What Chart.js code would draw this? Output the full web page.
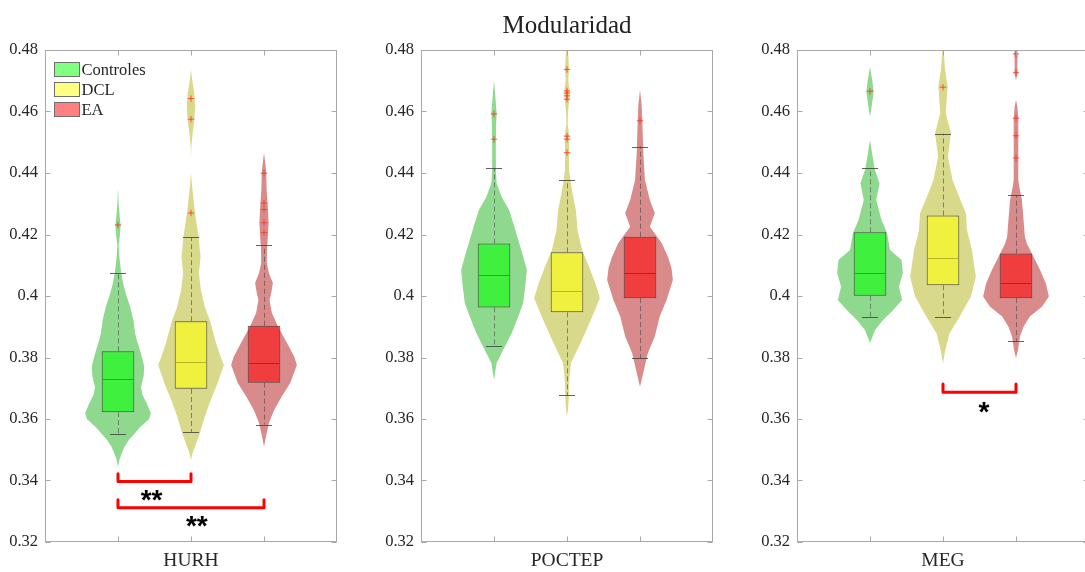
<!DOCTYPE html>
<html>
<head>
<meta charset="utf-8">
<script src="https://cdn.jsdelivr.net/npm/chart.js@4.4.1/dist/chart.umd.min.js"></script>
<style>
  html, body { margin: 0; padding: 0; background: #fff; overflow: hidden; }
  body { width: 1085px; height: 572px; position: relative; }
  canvas { position: absolute; top: 0; }
</style>
</head>
<body>
<canvas id="panel0" width="345" height="572" style="left:0px"></canvas>
<canvas id="panel1" width="345" height="572" style="left:376px"></canvas>
<canvas id="panel2" width="345" height="572" style="left:752px"></canvas>
<script>
// Groups and databases
const groups = ['Controles', 'DCL', 'EA'];
const databases = ['HURH', 'POCTEP', 'MEG'];
const yTicks = [0.32, 0.34, 0.36, 0.38, 0.40, 0.42, 0.44, 0.46, 0.48];
const chartTitle = 'Modularidad';

// Box plot stats, one row per database: [Controles, DCL, EA]
const q1 = [[0.3622, 0.3698, 0.3718], [0.3963, 0.3947, 0.3993], [0.4001, 0.4035, 0.3993]];
const medians = [[0.3729, 0.3784, 0.3781], [0.4067, 0.4016, 0.4076], [0.4076, 0.4123, 0.4041]];
const q3 = [[0.3820, 0.3918, 0.3903], [0.4171, 0.4142, 0.4193], [0.4207, 0.4262, 0.4138]];
const whiskerLow = [[0.3550, 0.3557, 0.3582], [0.3837, 0.3677, 0.3797], [0.3933, 0.3931, 0.3853]];
const whiskerHigh = [[0.4074, 0.4191, 0.4165], [0.4416, 0.4376, 0.4486], [0.4416, 0.4528, 0.4328]];
const outliers = [
    [[0.4231], [0.4270, 0.4575, 0.4642], [0.4206, 0.4238, 0.4281, 0.4302, 0.4399]],
    [[0.4510, 0.4592], [0.4466, 0.4510, 0.4520, 0.4640, 0.4651, 0.4660, 0.4667, 0.4737], [0.4570]],
    [[0.4666], [0.4679], [0.4449, 0.4521, 0.4578, 0.4726, 0.4787]]
];

// Violin profiles: levels (modularity) and relative density (1 = widest)
const hurhLevels = [
    [0.4350, 0.4300, 0.4260, 0.4230, 0.4200, 0.4165, 0.4130, 0.4100, 0.4074, 0.4040, 0.4000, 0.3965, 0.3920, 0.3880, 0.3857, 0.3834, 0.3800, 0.3770, 0.3740, 0.3704, 0.3680, 0.3650, 0.3619, 0.3600, 0.3574, 0.3550, 0.3532, 0.3510, 0.3490, 0.3470, 0.3445],
    [0.4735, 0.4700, 0.4660, 0.4615, 0.4570, 0.4530, 0.4486, 0.4450, 0.4400, 0.4360, 0.4320, 0.4270, 0.4235, 0.4193, 0.4128, 0.4074, 0.4020, 0.3965, 0.3912, 0.3847, 0.3803, 0.3776, 0.3716, 0.3662, 0.3608, 0.3554, 0.3510, 0.3490, 0.3467],
    [0.4465, 0.4440, 0.4400, 0.4345, 0.4300, 0.4237, 0.4200, 0.4150, 0.4107, 0.4075, 0.4042, 0.4010, 0.3987, 0.3945, 0.3900, 0.3847, 0.3803, 0.3776, 0.3717, 0.3673, 0.3629, 0.3587, 0.3543, 0.3510]
];
const hurhDensity = [
    [0, 0.02, 0.05, 0.08, 0.06, 0.02, 0.04, 0.07, 0.10, 0.16, 0.26, 0.37, 0.47, 0.52, 0.57, 0.64, 0.73, 0.80, 0.78, 0.70, 0.74, 0.88, 1.00, 0.95, 0.68, 0.48, 0.33, 0.20, 0.12, 0.05, 0],
    [0, 0.04, 0.10, 0.13, 0.10, 0.05, 0.01, 0, 0, 0.03, 0.07, 0.12, 0.17, 0.23, 0.29, 0.24, 0.30, 0.42, 0.60, 0.76, 0.90, 1.00, 0.81, 0.60, 0.42, 0.27, 0.12, 0.05, 0],
    [0, 0.03, 0.07, 0.08, 0.11, 0.14, 0.12, 0.09, 0.085, 0.15, 0.27, 0.22, 0.17, 0.24, 0.43, 0.70, 0.92, 1.00, 0.80, 0.54, 0.31, 0.15, 0.06, 0]
];
const poctepLevels = [
    [0.4702, 0.4650, 0.4595, 0.4550, 0.4465, 0.4400, 0.4367, 0.4323, 0.4280, 0.4225, 0.4160, 0.4128, 0.4085, 0.4030, 0.3977, 0.3933, 0.3880, 0.3824, 0.3782, 0.3727],
    [0.4820, 0.4760, 0.4737, 0.4700, 0.4667, 0.4640, 0.4600, 0.4560, 0.4520, 0.4466, 0.4410, 0.4345, 0.4280, 0.4215, 0.4150, 0.4095, 0.4042, 0.3993, 0.3933, 0.3880, 0.3824, 0.3782, 0.3717, 0.3662, 0.3630, 0.3608],
    [0.4670, 0.4620, 0.4572, 0.4465, 0.4377, 0.4312, 0.4270, 0.4225, 0.4172, 0.4128, 0.4090, 0.4052, 0.3987, 0.3933, 0.3868, 0.3815, 0.3759, 0.3705]
];
const poctepDensity = [
    [0, 0.04, 0.08, 0.06, 0.055, 0.06, 0.08, 0.23, 0.46, 0.62, 0.80, 0.89, 1.00, 0.95, 0.89, 0.74, 0.54, 0.28, 0.08, 0],
    [0.02, 0.05, 0.06, 0.04, 0.08, 0.07, 0.03, 0.02, 0.07, 0.06, 0.06, 0.15, 0.27, 0.32, 0.46, 0.67, 0.86, 1.00, 0.77, 0.55, 0.31, 0.12, 0.06, 0.05, 0.03, 0],
    [0, 0.05, 0.07, 0.10, 0.15, 0.30, 0.45, 0.30, 0.66, 0.85, 0.96, 1.00, 0.81, 0.60, 0.45, 0.24, 0.12, 0]
];
const megLevels = [
    [0.4746, 0.4700, 0.4666, 0.4630, 0.4583, 0.4507, 0.4460, 0.4415, 0.4366, 0.4312, 0.4247, 0.4205, 0.4150, 0.4117, 0.4075, 0.4030, 0.3987, 0.3954, 0.3921, 0.3889, 0.3847],
    [0.4820, 0.4800, 0.4740, 0.4681, 0.4595, 0.4529, 0.4453, 0.4377, 0.4312, 0.4269, 0.4215, 0.4150, 0.4063, 0.3998, 0.3933, 0.3879, 0.3824, 0.3780],
    [0.4820, 0.4787, 0.4750, 0.4726, 0.4702, 0.4637, 0.4616, 0.4578, 0.4521, 0.4449, 0.4377, 0.4356, 0.4312, 0.4247, 0.4193, 0.4171, 0.4128, 0.4085, 0.4041, 0.3998, 0.3965, 0.3933, 0.3900, 0.3868, 0.3824, 0.3798]
];
const megDensity = [
    [0, 0.07, 0.11, 0.07, 0, 0, 0.07, 0.14, 0.29, 0.19, 0.35, 0.52, 0.61, 0.96, 1.00, 0.88, 0.98, 0.70, 0.39, 0.15, 0],
    [0, 0.02, 0.06, 0.14, 0.085, 0.24, 0.15, 0.29, 0.53, 0.70, 0.73, 0.88, 1.00, 0.85, 0.51, 0.20, 0.07, 0],
    [0.03, 0.05, 0.04, 0.05, 0, 0, 0.04, 0.07, 0.07, 0.07, 0.07, 0.10, 0.18, 0.23, 0.27, 0.33, 0.53, 0.73, 0.91, 1.00, 0.79, 0.42, 0.23, 0.12, 0.06, 0]
];
const violinLevels = [hurhLevels, poctepLevels, megLevels];
const violinDensity = [hurhDensity, poctepDensity, megDensity];

// Significance brackets per database: group positions, bracket level, star text and its place
const bracketFrom = [[1, 1], [], [2]];
const bracketTo = [[2, 3], [], [3]];
const bracketBase = [[0.3397, 0.3311], [], [0.3687]];
const bracketTop = [[0.3422, 0.3337], [], [0.3714]];
const starText = [['**', '**'], [], ['*']];
const starX = [[1.46, 2.08], [], [2.56]];
const starY = [[0.3353, 0.3269], [], [0.3640]];

// Styles
const violinColors = ['#8ed98e', '#d9d98c', '#d98a8a'];
const boxColors = ['rgba(30,250,30,0.7)', 'rgba(250,250,30,0.7)', 'rgba(250,30,30,0.7)'];
const medianColors = ['rgba(30,150,30,0.75)', 'rgba(165,165,30,0.75)', 'rgba(150,30,30,0.75)'];
const legendColors = ['#80ff80', '#ffff80', '#ff8080'];
const VIOLIN_HALF = 0.45;
const CAP_HALF = 0.11;
const axisColor = '#a8a8a8';
const textColor = '#262626';
const serif = '"Liberation Serif", "Times New Roman", serif';

const violinPlugin = {
    id: 'violins',
    beforeDatasetsDraw(chart, args, opts) {
        const { ctx, chartArea, scales: { x, y } } = chart;
        const p = opts.panel;
        ctx.save();
        ctx.beginPath();
        ctx.rect(chartArea.left, chartArea.top, chartArea.width, chartArea.height);
        ctx.clip();
        groups.forEach((g, i) => {
            const c = i + 1;
            const lv = violinLevels[p][i];
            const dn = violinDensity[p][i];
            ctx.beginPath();
            for (let k = 0; k < lv.length; k++) {
                ctx.lineTo(x.getPixelForValue(c + dn[k] * VIOLIN_HALF), y.getPixelForValue(lv[k]));
            }
            for (let k = lv.length - 1; k >= 0; k--) {
                ctx.lineTo(x.getPixelForValue(c - dn[k] * VIOLIN_HALF), y.getPixelForValue(lv[k]));
            }
            ctx.closePath();
            ctx.fillStyle = violinColors[i];
            ctx.fill();

            // dashed whiskers
            const cx = Math.round(x.getPixelForValue(c)) + 0.5;
            ctx.strokeStyle = 'rgba(70,70,70,0.6)';
            ctx.lineWidth = 1;
            ctx.setLineDash([5, 3]);
            ctx.beginPath();
            ctx.moveTo(cx, y.getPixelForValue(q3[p][i]));
            ctx.lineTo(cx, y.getPixelForValue(whiskerHigh[p][i]));
            ctx.moveTo(cx, y.getPixelForValue(q1[p][i]));
            ctx.lineTo(cx, y.getPixelForValue(whiskerLow[p][i]));
            ctx.stroke();
            ctx.setLineDash([]);
        });
        ctx.restore();
    },
    afterDatasetsDraw(chart, args, opts) {
        const { ctx, scales: { x, y } } = chart;
        const p = opts.panel;
        ctx.save();
        // medians and whisker caps
        groups.forEach((g, i) => {
            const c = i + 1;
            const bl = x.getPixelForValue(c - 0.223), br = x.getPixelForValue(c + 0.223);
            const my = Math.round(y.getPixelForValue(medians[p][i])) + 0.5;
            ctx.strokeStyle = medianColors[i];
            ctx.lineWidth = 1;
            ctx.beginPath();
            ctx.moveTo(bl + 1, my);
            ctx.lineTo(br - 1, my);
            ctx.stroke();

            ctx.strokeStyle = 'rgba(60,60,60,0.8)';
            ctx.beginPath();
            [whiskerHigh[p][i], whiskerLow[p][i]].forEach(v => {
                const wy = Math.round(y.getPixelForValue(v)) + 0.5;
                ctx.moveTo(x.getPixelForValue(c - CAP_HALF), wy);
                ctx.lineTo(x.getPixelForValue(c + CAP_HALF), wy);
            });
            ctx.stroke();
        });

        // significance brackets
        bracketFrom[p].forEach((f, b) => {
            const x0 = x.getPixelForValue(f), x1 = x.getPixelForValue(bracketTo[p][b]);
            const yb = y.getPixelForValue(bracketBase[p][b]), yt = y.getPixelForValue(bracketTop[p][b]);
            ctx.strokeStyle = '#ff0000';
            ctx.lineWidth = 3;
            ctx.lineJoin = 'round';
            ctx.lineCap = 'round';
            ctx.beginPath();
            ctx.moveTo(x0, yt);
            ctx.lineTo(x0, yb);
            ctx.lineTo(x1, yb);
            ctx.lineTo(x1, yt);
            ctx.stroke();

            const size = 28;
            ctx.font = 'bold ' + size + 'px "Liberation Sans", Arial, sans-serif';
            ctx.fillStyle = '#000';
            ctx.textAlign = 'center';
            ctx.textBaseline = 'alphabetic';
            ctx.fillText(starText[p][b], x.getPixelForValue(starX[p][b]), y.getPixelForValue(starY[p][b]) + size * 0.5);
        });
        ctx.restore();
    },
    afterDraw(chart, args, opts) {
        const { ctx, chartArea: a, scales: { x, y } } = chart;
        const p = opts.panel;
        ctx.save();
        // axes box with inward ticks
        ctx.strokeStyle = axisColor;
        ctx.lineWidth = 1;
        const L = Math.round(a.left) + 0.5, R = Math.round(a.right) - 0.5;
        const T = Math.round(a.top) + 0.5, B = Math.round(a.bottom) - 0.5;
        ctx.strokeRect(L, T, R - L, B - T);
        ctx.beginPath();
        yTicks.forEach(v => {
            const ty = Math.round(y.getPixelForValue(v)) + 0.5;
            ctx.moveTo(L, ty); ctx.lineTo(L + 5, ty);
            ctx.moveTo(R, ty); ctx.lineTo(R - 5, ty);
        });
        groups.forEach((g, i) => {
            const tx = Math.round(x.getPixelForValue(i + 1)) + 0.5;
            ctx.moveTo(tx, B); ctx.lineTo(tx, B - 5);
            ctx.moveTo(tx, T); ctx.lineTo(tx, T + 5);
        });
        ctx.stroke();

        // overall title, centred over the middle panel
        if (p === 1) {
            ctx.font = '25px ' + serif;
            ctx.fillStyle = '#222';
            ctx.textAlign = 'center';
            ctx.textBaseline = 'alphabetic';
            ctx.fillText(chartTitle, (a.left + a.right) / 2, 33);
        }

        // legend in the first panel
        if (p === 0) {
            ctx.font = '16.5px ' + serif;
            ctx.textAlign = 'left';
            ctx.textBaseline = 'middle';
            groups.forEach((g, i) => {
                const cy = a.top + 19.5 + i * 20;
                ctx.fillStyle = legendColors[i];
                ctx.fillRect(a.left + 9.5, cy - 7, 25, 14);
                ctx.strokeStyle = '#707070';
                ctx.strokeRect(a.left + 9.5, cy - 7, 25, 14);
                ctx.fillStyle = textColor;
                ctx.fillText(g, a.left + 36.5, cy + 1);
            });
        }
        ctx.restore();
    }
};

function makePanel(p) {
    const boxData = groups.map((g, i) => ({ x: i + 1, y: [q1[p][i], q3[p][i]] }));
    const outData = [];
    outliers[p].forEach((list, i) => list.forEach(v => outData.push({ x: i + 1, y: v })));

    new Chart(document.getElementById('panel' + p), {
        type: 'bar',
        data: {
            datasets: [
                {
                    type: 'scatter',
                    data: outData,
                    pointStyle: 'cross',
                    pointRadius: 3.2,
                    borderColor: 'rgba(255,50,30,0.8)',
                    backgroundColor: 'rgba(255,50,30,0.8)',
                    borderWidth: 1
                },
                {
                    type: 'bar',
                    data: boxData,
                    backgroundColor: boxColors,
                    borderColor: 'rgba(55,55,55,0.85)',
                    borderWidth: 1,
                    borderSkipped: false,
                    barPercentage: 0.447,
                    categoryPercentage: 1
                }
            ]
        },
        options: {
            responsive: false,
            animation: false,
            layout: { padding: { top: 50, right: 8, left: 0, bottom: 0 } },
            plugins: {
                legend: { display: false },
                tooltip: { enabled: false },
                violins: { panel: p }
            },
            scales: {
                x: {
                    type: 'linear',
                    min: 0,
                    max: 4,
                    offset: false,
                    grid: { display: false, drawTicks: false },
                    border: { display: false },
                    afterBuildTicks: s => { s.ticks = groups.map((g, i) => ({ value: i + 1 })); },
                    afterFit: s => { s.height = 30; },
                    ticks: {
                        autoSkip: false,
                        maxRotation: 0,
                        padding: 7,
                        color: textColor,
                        font: { family: serif, size: 19.5 },
                        callback: v => (v === 2 ? databases[p] : '')
                    }
                },
                y: {
                    type: 'linear',
                    min: 0.32,
                    max: 0.48,
                    grid: { display: false, drawTicks: false },
                    border: { display: false },
                    afterBuildTicks: s => { s.ticks = yTicks.map(v => ({ value: v })); },
                    afterFit: s => { s.width = 45; },
                    ticks: {
                        padding: 7,
                        color: textColor,
                        font: { family: serif, size: 16.5 },
                        callback: v => String(parseFloat(v.toFixed(2)))
                    }
                }
            }
        },
        plugins: [violinPlugin]
    });
}

databases.forEach((d, p) => makePanel(p));
</script>
</body>
</html>
